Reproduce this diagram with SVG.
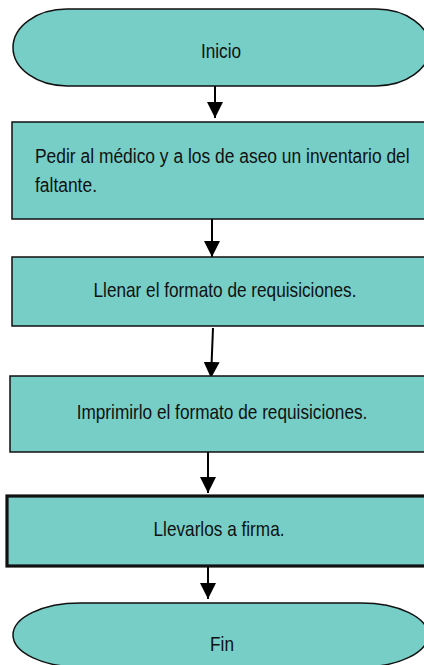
<svg xmlns="http://www.w3.org/2000/svg" width="424" height="665" viewBox="0 0 424 665">
<defs>
<style>
.shape{fill:#76CEC7;stroke:#111;stroke-width:1.5}
.thick{stroke-width:3.2}
.lbl{font-family:"Liberation Sans",Arial,sans-serif;font-size:21px;fill:#111}
.conn{stroke:#000;stroke-width:2;fill:none}
</style>
<marker id="ah" markerWidth="8" markerHeight="8" refX="8" refY="4" orient="auto" markerUnits="strokeWidth">
<path d="M0,0 L8,4 L0,8 Z" fill="#000"/>
</marker>
</defs>
<rect width="424" height="665" fill="#fff"/>
<g id="connectors">
<line class="conn" x1="215" y1="86" x2="215" y2="118" marker-end="url(#ah)"/>
<line class="conn" x1="212" y1="219" x2="212" y2="257" marker-end="url(#ah)"/>
<line class="conn" x1="213" y1="328" x2="211" y2="378" marker-end="url(#ah)"/>
<line class="conn" x1="208" y1="452" x2="208" y2="493" marker-end="url(#ah)"/>
<line class="conn" x1="208" y1="561" x2="208" y2="599" marker-end="url(#ah)"/>
</g>
<g id="inicio">
<path class="shape" d="M67,9 L376,9 A54,38.5 0 0 1 376,86 L67,86 A54,38.5 0 0 1 67,9 Z"/>
<text class="lbl" text-anchor="middle" transform="translate(221,58) scale(0.82,1)">Inicio</text>
</g>
<g id="paso1">
<rect class="shape" x="12" y="122" width="420" height="97"/>
<text class="lbl" transform="translate(35,163) scale(0.83,1)">Pedir al médico y a los de aseo un inventario del</text>
<text class="lbl" transform="translate(35,192) scale(0.83,1)">faltante.</text>
</g>
<g id="paso2">
<rect class="shape" x="12" y="257" width="420" height="69"/>
<text class="lbl" text-anchor="middle" transform="translate(225,297) scale(0.82,1)">Llenar el formato de requisiciones.</text>
</g>
<g id="paso3">
<rect class="shape" x="10" y="376" width="420" height="76"/>
<text class="lbl" text-anchor="middle" transform="translate(222,419) scale(0.82,1)">Imprimirlo el formato de requisiciones.</text>
</g>
<g id="paso4">
<rect class="shape thick" x="7" y="496" width="425" height="70"/>
<text class="lbl" text-anchor="middle" transform="translate(219,536) scale(0.82,1)">Llevarlos a firma.</text>
</g>
<g id="fin">
<path class="shape" d="M80,603 L361,603 A67,32 0 0 1 361,667 L80,667 A67,32 0 0 1 80,603 Z"/>
<text class="lbl" text-anchor="middle" transform="translate(222,651) scale(0.82,1)">Fin</text>
</g>
</svg>
